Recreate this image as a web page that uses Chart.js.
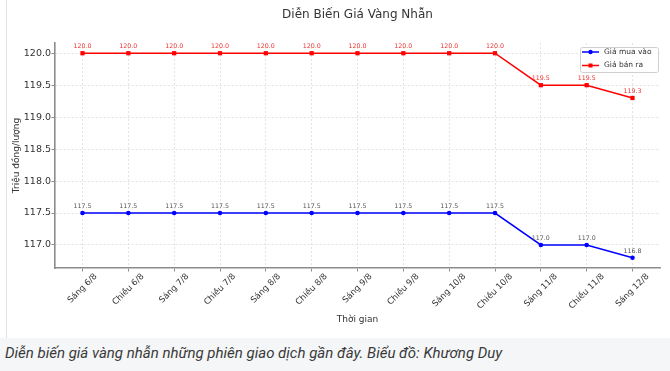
<!DOCTYPE html>
<html>
<head>
<meta charset="utf-8">
<script src="https://cdn.jsdelivr.net/npm/chart.js@4.4.1/dist/chart.umd.min.js"></script>
<style>
  html, body { margin: 0; padding: 0; }
  body { width: 670px; height: 371px; background: #f5f6f8; position: relative; overflow: hidden; }
  #frame { position: absolute; left: 0; top: 0; width: 670px; height: 338px; background: #fff; }
  #wrap { position: absolute; left: 6px; top: 0; width: 663px; height: 338px; border-left: 1px solid #e2e2e2; background: #fff; }
  #caption { position: absolute; left: 5px; top: 344px; margin: 0; font: italic 15px Roboto, "Liberation Sans", sans-serif; color: #3a3a3a; white-space: nowrap; }
</style>
</head>
<body>
<div id="frame"></div>
<div id="wrap"><canvas id="goldChart" width="663" height="338"></canvas></div>
<p id="caption">Diễn biến giá vàng nhẫn những phiên giao dịch gần đây. Biểu đồ: Khương Duy</p>
<script>
// dữ liệu (triệu đồng/lượng)
const periods = ['Sáng 6/8', 'Chiều 6/8', 'Sáng 7/8', 'Chiều 7/8', 'Sáng 8/8', 'Chiều 8/8', 'Sáng 9/8',
    'Chiều 9/8', 'Sáng 10/8', 'Chiều 10/8', 'Sáng 11/8', 'Chiều 11/8', 'Sáng 12/8'];
const giaMuaVao = [117.5, 117.5, 117.5, 117.5, 117.5, 117.5, 117.5, 117.5, 117.5, 117.5, 117.0, 117.0, 116.8];
const giaBanRa = [120.0, 120.0, 120.0, 120.0, 120.0, 120.0, 120.0, 120.0, 120.0, 120.0, 119.5, 119.5, 119.3];
const yTicks = [117.0, 117.5, 118.0, 118.5, 119.0, 119.5, 120.0];

const FONT = '"DejaVu Sans", sans-serif';

// tiêu đề, nhãn trục x xoay 45 độ, nhãn giá trị và chú thích
const extrasPlugin = {
    id: 'extras',
    afterDatasetsDraw(chart) {
        const ctx = chart.ctx;
        ctx.save();
        ctx.font = '6.3px ' + FONT;
        ctx.textAlign = 'center';
        ctx.textBaseline = 'middle';
        chart.data.datasets.forEach((ds, di) => {
            ctx.fillStyle = ds.labelColor;
            chart.getDatasetMeta(di).data.forEach((pt, i) => {
                ctx.fillText(ds.data[i].y.toFixed(1), pt.x, pt.y - 6.6);
            });
        });
        ctx.restore();
    },
    afterDraw(chart) {
        const ctx = chart.ctx;
        const area = chart.chartArea;
        const xs = chart.scales.x;
        ctx.save();
        // tiêu đề
        ctx.fillStyle = '#333';
        ctx.font = '12px ' + FONT;
        ctx.textAlign = 'center';
        ctx.textBaseline = 'middle';
        ctx.fillText('Diễn Biến Giá Vàng Nhẫn', (area.left + area.right) / 2, 15);

        // nhãn trục x
        ctx.font = '8.5px ' + FONT;
        const c = Math.SQRT1_2;
        periods.forEach((lab, i) => {
            const w = ctx.measureText(lab).width;
            const h = 10;
            const half = (w + h) * c / 2;
            const x = xs.getPixelForValue(i);
            const y = area.bottom + 3.5 + half;
            ctx.save();
            ctx.translate(x, y);
            ctx.rotate(-Math.PI / 4);
            ctx.fillText(lab, 0, 0);
            ctx.restore();
        });

        // chú thích
        const bx = 573, by = 47, bw = 78, bh = 25;
        ctx.fillStyle = 'rgba(255,255,255,0.8)';
        ctx.strokeStyle = '#d0d0d0';
        ctx.lineWidth = 1;
        ctx.beginPath();
        ctx.roundRect(bx + 0.5, by + 0.5, bw, bh, 2);
        ctx.fill();
        ctx.stroke();
        ctx.font = '7.5px ' + FONT;
        ctx.textAlign = 'left';
        chart.data.datasets.forEach((ds, di) => {
            const ry = 52 + di * 13.5;
            ctx.strokeStyle = ds.borderColor;
            ctx.lineWidth = 1.5;
            ctx.beginPath();
            ctx.moveTo(575, ry);
            ctx.lineTo(592, ry);
            ctx.stroke();
            ctx.fillStyle = ds.borderColor;
            if (ds.pointStyle === 'rect') {
                ctx.fillRect(583.5 - 2, ry - 2, 4, 4);
            } else {
                ctx.beginPath();
                ctx.arc(583.5, ry, 2.2, 0, Math.PI * 2);
                ctx.fill();
            }
            ctx.fillStyle = '#333';
            ctx.fillText(ds.label, 597, ry);
        });
        ctx.restore();
    }
};

function initializeChart() {
    const ctx = document.getElementById('goldChart').getContext('2d');
    const data = {
        datasets: [{
            label: 'Giá mua vào',
            data: giaMuaVao.map((v, i) => ({ x: i, y: v })),
            borderColor: '#0000ff',
            backgroundColor: '#0000ff',
            borderWidth: 1.5,
            pointStyle: 'circle',
            pointRadius: 2.3,
            pointBorderWidth: 0,
            labelColor: '#555',
            tension: 0
        }, {
            label: 'Giá bán ra',
            data: giaBanRa.map((v, i) => ({ x: i, y: v })),
            borderColor: '#ff0000',
            backgroundColor: '#ff0000',
            borderWidth: 1.5,
            pointStyle: 'rect',
            pointRadius: 3,
            pointBorderWidth: 0,
            labelColor: '#ee3030',
            tension: 0
        }]
    };
    const config = {
        type: 'line',
        data: data,
        options: {
            responsive: false,
            animation: false,
            devicePixelRatio: 1,
            layout: { padding: { top: 43, right: 10, left: 0, bottom: 0 } },
            plugins: {
                legend: { display: false },
                title: { display: false },
                tooltip: { enabled: false }
            },
            scales: {
                x: {
                    type: 'linear',
                    min: -0.6,
                    max: 12.6,
                    afterBuildTicks: s => { s.ticks = periods.map((_, i) => ({ value: i })); },
                    afterFit: s => { s.height = 70; },
                    ticks: { display: false },
                    grid: { color: '#dcdcdc', lineWidth: 0.8, tickColor: '#8c8c8c', tickLength: 3.5, tickWidth: 1 },
                    border: { color: '#8c8c8c', width: 1.6, dash: [2, 2] },
                    title: {
                        display: true, text: 'Thời gian', color: '#333',
                        font: { family: FONT, size: 9 }, padding: { top: 0, bottom: 13 }
                    }
                },
                y: {
                    min: 116.64,
                    max: 120.16,
                    afterBuildTicks: s => { s.ticks = yTicks.map(v => ({ value: v })); },
                    afterFit: s => { s.width = 48; },
                    ticks: {
                        autoSkip: false, color: '#333', padding: 0.5,
                        font: { family: FONT, size: 9.5 },
                        callback: v => Number(v).toFixed(1)
                    },
                    grid: { color: '#dcdcdc', lineWidth: 0.8, tickColor: '#8c8c8c', tickLength: 3.5, tickWidth: 1 },
                    border: { color: '#8c8c8c', width: 1.6, dash: [2, 2] },
                    title: {
                        display: true, text: 'Triệu đồng/lượng', color: '#333',
                        font: { family: FONT, size: 9 }, padding: { top: 4.5, bottom: 0 }
                    }
                }
            }
        },
        plugins: [extrasPlugin]
    };
    new Chart(ctx, config);
}

if (document.readyState === 'loading') {
    document.addEventListener('DOMContentLoaded', initializeChart);
} else {
    initializeChart();
}
</script>
</body>
</html>
